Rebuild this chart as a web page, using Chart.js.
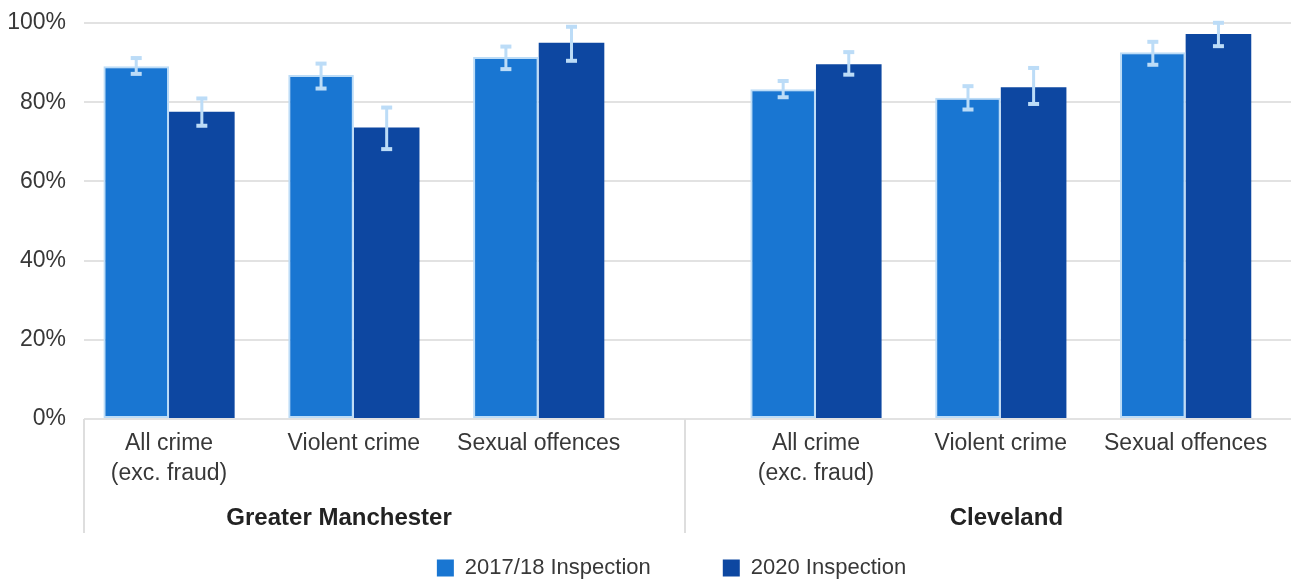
<!DOCTYPE html>
<html>
<head>
<meta charset="utf-8">
<script src="https://cdn.jsdelivr.net/npm/chart.js@4.4.1/dist/chart.umd.min.js"></script>
<style>
  html, body { margin: 0; padding: 0; background: #fff; }
  #wrap { width: 1291px; height: 581px; }
</style>
</head>
<body>
<div id="wrap"><canvas id="crimeChart"></canvas></div>
<script>
// categories and groups
const forces = ['Greater Manchester', 'Cleveland'];
const crimeTypes = [['All crime', '(exc. fraud)'], 'Violent crime', 'Sexual offences'];

// values, % (order: GM x3, Cleveland x3)
const insp2017 = [89.1, 86.9, 91.4, 83.3, 81.1, 92.6];
const insp2017Lo = [86.9, 83.2, 88.1, 81.0, 77.9, 89.2];
const insp2017Hi = [91.4, 90.0, 94.3, 85.6, 84.3, 95.5];

const insp2020 = [77.6, 73.6, 95.0, 89.6, 83.8, 97.2];
const insp2020Lo = [73.8, 67.9, 90.2, 86.7, 79.3, 93.9];
const insp2020Hi = [81.2, 78.9, 99.3, 92.9, 88.9, 100.3];

const yTicks = [0, 20, 40, 60, 80, 100];

const FONT = '"Liberation Sans", Arial, sans-serif';
const TXT = '#383838';

// slot on the x axis: each force block is 3 slots + half a slot gap
const slots = [];
const tickLabels = [];
forces.forEach((f, g) => {
    crimeTypes.forEach((c, k) => {
        slots.push(g * 3.5 + k);
        tickLabels.push(c);
    });
});
const groupCentres = [0.92, 4.53];
const dividers = [-0.46, 2.79];

function toPoints(vals) {
    return vals.map((v, i) => ({x: slots[i], y: v}));
}

const errorBars = {
    id: 'errorBars',
    afterDatasetsDraw(chart) {
        const ctx = chart.ctx;
        const y = chart.scales.y;
        ctx.save();
        ctx.fillStyle = '#bcdcf7';
        chart.data.datasets.forEach((ds, di) => {
            const meta = chart.getDatasetMeta(di);
            meta.data.forEach((bar, i) => {
                const top = y.getPixelForValue(ds.errHi[i]);
                const bot = y.getPixelForValue(ds.errLo[i]);
                ctx.fillRect(bar.x - 1.5, top, 3, bot - top);
                ctx.fillRect(bar.x - 5.5, top - 1, 11, 4);
                ctx.fillRect(bar.x - 5.5, bot - 3, 11, 4);
            });
        });
        ctx.restore();
    }
};

// force names under the category labels, with the block dividers
const groupAxis = {
    id: 'groupAxis',
    afterLayout(chart) {
        // nudge the legend row to sit where the original one does
        chart.legend.left += 52;
    },
    afterDraw(chart) {
        const ctx = chart.ctx;
        const x = chart.scales.x;
        const area = chart.chartArea;
        ctx.save();
        ctx.strokeStyle = '#dedede';
        ctx.lineWidth = 2;
        dividers.forEach(d => {
            const px = Math.round(x.getPixelForValue(d));
            ctx.beginPath();
            ctx.moveTo(px, area.bottom);
            ctx.lineTo(px, 533);
            ctx.stroke();
        });
        ctx.fillStyle = '#222';
        ctx.font = 'bold 24px ' + FONT;
        ctx.textAlign = 'center';
        ctx.textBaseline = 'middle';
        forces.forEach((f, i) => {
            ctx.fillText(f, x.getPixelForValue(groupCentres[i]), area.bottom + 99);
        });
        ctx.restore();
    }
};

const config = {
    type: 'bar',
    data: {
        datasets: [{
            label: '2017/18 Inspection',
            data: toPoints(insp2017),
            errLo: insp2017Lo,
            errHi: insp2017Hi,
            backgroundColor: '#1976d2',
            borderColor: '#bcdcf7',
            borderWidth: 2,
            borderSkipped: false,
            categoryPercentage: 0.71,
            barPercentage: 1.0
        }, {
            label: '2020 Inspection',
            data: toPoints(insp2020),
            errLo: insp2020Lo,
            errHi: insp2020Hi,
            backgroundColor: '#0d47a1',
            borderWidth: 0,
            categoryPercentage: 0.71,
            barPercentage: 1.0
        }]
    },
    options: {
        responsive: true,
        maintainAspectRatio: false,
        animation: false,
        layout: { padding: { top: 23, left: 0, right: 0, bottom: 0 } },
        scales: {
            x: {
                type: 'linear',
                min: dividers[0],
                max: 6.07,
                offset: false,
                grid: { display: false },
                border: { display: false },
                afterBuildTicks: axis => { axis.ticks = slots.map(v => ({value: v})); },
                afterFit: axis => { axis.height = 66; },
                ticks: {
                    autoSkip: false,
                    maxRotation: 0,
                    padding: 2,
                    color: TXT,
                    font: { family: FONT, size: 23, lineHeight: 1.28 },
                    callback: (v, i) => tickLabels[i]
                }
            },
            y: {
                min: 0,
                max: 100,
                afterBuildTicks: axis => { axis.ticks = yTicks.map(v => ({value: v})); },
                afterFit: axis => { axis.width = 84; axis.paddingTop = 23; },
                grid: { color: '#e2e2e2', lineWidth: 2, drawTicks: false },
                border: { display: false },
                ticks: {
                    padding: 18,
                    color: TXT,
                    font: { family: FONT, size: 23 },
                    callback: v => v + '%'
                }
            }
        },
        plugins: {
            legend: {
                position: 'bottom',
                maxHeight: 96,
                labels: {
                    boxWidth: 17,
                    boxHeight: 17,
                    padding: 72,
                    color: TXT,
                    font: { family: FONT, size: 22 },
                    generateLabels: chart => chart.data.datasets.map((ds, i) => ({
                        text: ds.label,
                        fillStyle: ds.backgroundColor,
                        strokeStyle: ds.backgroundColor,
                        lineWidth: 0,
                        fontColor: TXT,
                        datasetIndex: i
                    }))
                }
            },
            tooltip: { enabled: false }
        }
    },
    plugins: [errorBars, groupAxis]
};

const crimeChart = new Chart('crimeChart', config);
</script>
</body>
</html>
